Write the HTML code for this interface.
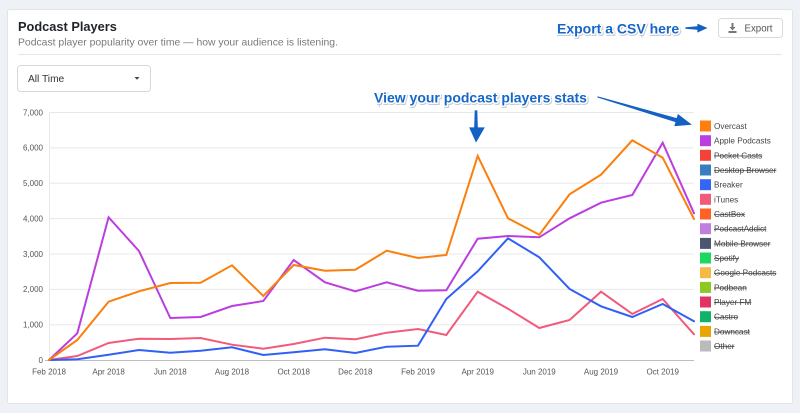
<!DOCTYPE html>
<html>
<head>
<meta charset="utf-8">
<style>
  html,body{margin:0;padding:0;background:#eef1f5;}
  body{width:800px;height:413px;overflow:hidden;font-family:"Liberation Sans",sans-serif;}
  svg{display:block;}
  .st{text-decoration:line-through;}
</style>
</head>
<body>
<svg width="800" height="413" viewBox="0 0 800 413" xmlns="http://www.w3.org/2000/svg" font-family="Liberation Sans, sans-serif">
  <rect x="0" y="0" width="800" height="413" fill="#eef1f5"/>
  <!-- card -->
  <rect x="7.5" y="9.5" width="785" height="394" rx="2" fill="#ffffff" stroke="#e1e5ea"/>

  <!-- header -->
  <text x="18" y="31" font-size="12.8" font-weight="bold" fill="#1f2328">Podcast Players</text>
  <text x="18" y="45.5" font-size="10.4" fill="#7a7a7a">Podcast player popularity over time — how your audience is listening.</text>
  <line x1="18" y1="54.5" x2="782" y2="54.5" stroke="#e6e6e6"/>

  <!-- export button -->
  <rect x="718.5" y="18.5" width="64" height="19" rx="3" fill="#fff" stroke="#dadada"/>
  <g fill="#777">
    <rect x="731.5" y="23" width="2" height="4.5"/>
    <polygon points="729.5,27 735.5,27 732.5,30.5"/>
    <rect x="728.5" y="31" width="8" height="2"/>
  </g>
  <text x="744.5" y="31.3" font-size="9.7" fill="#555">Export</text>

  <!-- dropdown -->
  <rect x="17.5" y="65.5" width="133" height="26" rx="3" fill="#fff" stroke="#d8d8d8"/>
  <text x="28" y="82" font-size="10.2" fill="#333">All Time</text>
  <polygon points="134.5,77 139.5,77 137,79.8" fill="#444"/>

  <!-- gridlines -->
  <g stroke="#e8e8e8" stroke-width="1">
    <line x1="49" y1="112.5" x2="694" y2="112.5"/>
    <line x1="49" y1="147.9" x2="694" y2="147.9"/>
    <line x1="49" y1="183.3" x2="694" y2="183.3"/>
    <line x1="49" y1="218.6" x2="694" y2="218.6"/>
    <line x1="49" y1="254" x2="694" y2="254"/>
    <line x1="49" y1="289.4" x2="694" y2="289.4"/>
    <line x1="49" y1="324.8" x2="694" y2="324.8"/>
    <line x1="49.5" y1="112" x2="49.5" y2="360"/>
  </g>
  <line x1="45" y1="360.5" x2="694" y2="360.5" stroke="#bdbdbd"/>

  <!-- y labels -->
  <g font-size="8" fill="#555" text-anchor="end">
    <text x="43" y="115.3">7,000</text>
    <text x="43" y="150.7">6,000</text>
    <text x="43" y="186.1">5,000</text>
    <text x="43" y="221.4">4,000</text>
    <text x="43" y="256.8">3,000</text>
    <text x="43" y="292.2">2,000</text>
    <text x="43" y="327.6">1,000</text>
    <text x="43" y="363">0</text>
  </g>

  <!-- x labels -->
  <g font-size="8" fill="#555" text-anchor="middle">
    <text x="49" y="374.5">Feb 2018</text>
    <text x="108.6" y="374.5">Apr 2018</text>
    <text x="170.3" y="374.5">Jun 2018</text>
    <text x="232" y="374.5">Aug 2018</text>
    <text x="293.7" y="374.5">Oct 2018</text>
    <text x="355.3" y="374.5">Dec 2018</text>
    <text x="418" y="374.5">Feb 2019</text>
    <text x="477.7" y="374.5">Apr 2019</text>
    <text x="539.3" y="374.5">Jun 2019</text>
    <text x="601" y="374.5">Aug 2019</text>
    <text x="662.7" y="374.5">Oct 2019</text>
  </g>

  <!-- series -->
  <g fill="none" stroke-width="2" stroke-linejoin="miter" stroke-linecap="round">
    <!-- iTunes -->
    <polyline stroke="#f25a7c" points="49,360 77.3,356 108.6,343 139,338.7 170.3,339 200.6,338 232,344.7 263.3,348.7 293.7,344 325,337.7 355.3,339.3 386.7,332.7 418,329 446.3,335 477.7,291.7 508,308.7 539.3,328 569.6,320 601,291.7 632.3,314 662.7,299 694,334.3"/>
    <!-- Breaker -->
    <polyline stroke="#3060f5" points="49,360 77.3,359.3 108.6,354.7 139,350 170.3,352.7 200.6,350.7 232,347.3 263.3,355 293.7,352.3 325,349.3 355.3,353 386.7,346.7 418,345.7 446.3,299 477.7,271.3 508,238.3 539.3,257.3 569.6,289 601,306.3 632.3,317 662.7,304 694,321.3"/>
    <!-- Apple Podcasts -->
    <polyline stroke="#bb3ee0" points="49,360 77.3,333.3 108.6,217.3 139,251 170.3,318 200.6,317 232,306 263.3,301 293.7,260 325,282.3 355.3,291.3 386.7,282.3 418,290.7 446.3,290.3 477.7,238.7 508,236 539.3,237.3 569.6,218.3 601,202.7 632.3,195 662.7,142.7 694,213.3"/>
    <!-- Overcast -->
    <polyline stroke="#fb7f0c" points="49,360 77.3,340 108.6,301.7 139,291.3 170.3,283 200.6,282.7 232,265.3 263.3,296 293.7,265 325,270.7 355.3,269.7 386.7,250.7 418,258 446.3,255 477.7,156 508,218.3 539.3,234.7 569.6,194.3 601,174.7 632.3,140.3 662.7,157.7 694,219"/>
  </g>

  <!-- legend -->
  <g font-size="8.2" fill="#444">
    <rect x="700" y="120.5" width="11" height="11" fill="#ff7f0e"/>
    <text x="714" y="129">Overcast</text>
    <rect x="700" y="135.2" width="11" height="11" fill="#bb3ee0"/>
    <text x="714" y="143.7">Apple Podcasts</text>
    <rect x="700" y="149.8" width="11" height="11" fill="#f44336"/>
    <text x="714" y="158.3" class="st">Pocket Casts</text>
    <rect x="700" y="164.5" width="11" height="11" fill="#3a7cc0"/>
    <text x="714" y="173" class="st">Desktop Browser</text>
    <rect x="700" y="179.2" width="11" height="11" fill="#3366f5"/>
    <text x="714" y="187.7">Breaker</text>
    <rect x="700" y="193.8" width="11" height="11" fill="#f25a7c"/>
    <text x="714" y="202.3">iTunes</text>
    <rect x="700" y="208.5" width="11" height="11" fill="#ff6224"/>
    <text x="714" y="217" class="st">CastBox</text>
    <rect x="700" y="223.2" width="11" height="11" fill="#c07ee0"/>
    <text x="714" y="231.7" class="st">PodcastAddict</text>
    <rect x="700" y="237.9" width="11" height="11" fill="#4a5770"/>
    <text x="714" y="246.4" class="st">Mobile Browser</text>
    <rect x="700" y="252.5" width="11" height="11" fill="#1ed760"/>
    <text x="714" y="261" class="st">Spotify</text>
    <rect x="700" y="267.2" width="11" height="11" fill="#f5b945"/>
    <text x="714" y="275.7" class="st">Google Podcasts</text>
    <rect x="700" y="281.9" width="11" height="11" fill="#8ec822"/>
    <text x="714" y="290.4" class="st">Podbean</text>
    <rect x="700" y="296.5" width="11" height="11" fill="#e03560"/>
    <text x="714" y="305" class="st">Player FM</text>
    <rect x="700" y="311.2" width="11" height="11" fill="#10b26a"/>
    <text x="714" y="319.7" class="st">Castro</text>
    <rect x="700" y="325.9" width="11" height="11" fill="#e8a600"/>
    <text x="714" y="334.4" class="st">Downcast</text>
    <rect x="700" y="340.5" width="11" height="11" fill="#bbbbbb"/>
    <text x="714" y="349" class="st">Other</text>
  </g>

  <!-- annotations -->
  <g font-size="14" font-weight="bold">
    <text x="557.8" y="34.5" fill="#9aa3ad" stroke="#9aa3ad" stroke-width="3" opacity="0.55">Export a CSV here</text>
    <text x="557" y="33.5" fill="#1766c9" stroke="#ffffff" stroke-width="3" paint-order="stroke" stroke-linejoin="round">Export a CSV here</text>
    <text x="374.8" y="103.5" fill="#9aa3ad" stroke="#9aa3ad" stroke-width="3" opacity="0.55">View your podcast players stats</text>
    <text x="374" y="102.5" fill="#1766c9" stroke="#ffffff" stroke-width="3" paint-order="stroke" stroke-linejoin="round">View your podcast players stats</text>
  </g>
  <g fill="#1461c4" stroke="#ffffff" stroke-width="0.8" stroke-linejoin="round">
    <polygon points="685,27 697,25.8 697,23 708.5,28 697,33.2 697,30.2 685,29.2"/>
    <polygon points="474.3,110 477.7,110 478.2,127 485.5,127 476,143.5 468.5,127 473.8,127"/>
    <polygon points="597,95.8 676.4,117.6 677.7,113.3 693,125 673.7,126.7 675,122.4 597,97.8"/>
  </g>
</svg>
</body>
</html>
